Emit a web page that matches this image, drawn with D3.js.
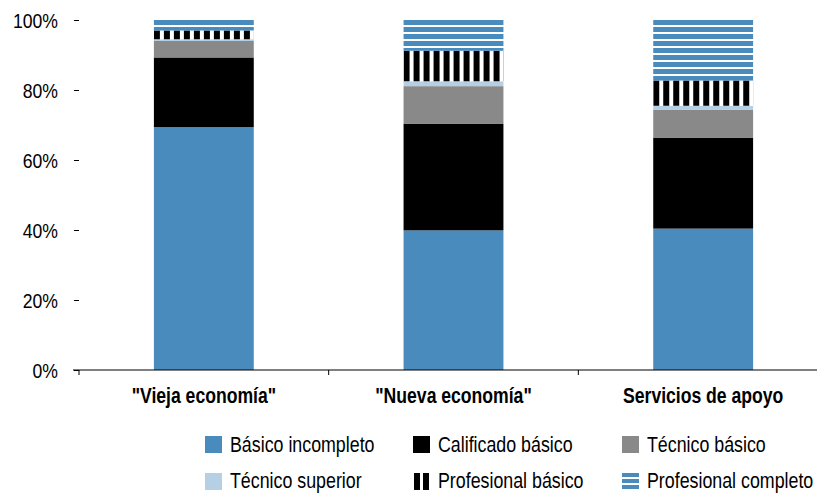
<!DOCTYPE html>
<html><head><meta charset="utf-8">
<script src="https://cdn.jsdelivr.net/npm/d3@7"></script>
<style>
body{margin:0;background:#fff;}
text{font-family:"Liberation Sans",Arial,sans-serif;fill:#000;}
</style></head>
<body><svg id="c" width="817" height="493"></svg>
<script>
const categories = ['"Vieja economía"', '"Nueva economía"', 'Servicios de apoyo'];
const seriesNames = ["Básico incompleto","Calificado básico","Técnico básico","Técnico superior","Profesional básico","Profesional completo"];
const basicoIncompleto   = [69.4, 39.9, 40.4];
const calificadoBasico   = [19.9, 30.5, 26.0];
const tecnicoBasico      = [4.7, 10.7, 8.0];
const tecnicoSuperior    = [0.5, 1.4, 1.1];
const profesionalBasico  = [2.5, 8.7, 7.2];
const profesionalCompleto= [3.0, 8.8, 17.3];
const yTicks = [0, 20, 40, 60, 80, 100];

const seriesValues = [basicoIncompleto, calificadoBasico, tecnicoBasico, tecnicoSuperior, profesionalBasico, profesionalCompleto];
const colors = ["#4a8bbd", "#000000", "#898989", "#b5d0e4", null, null];

const svg = d3.select("#c");
const x = d3.scaleBand().domain(categories).range([79, 828]).paddingInner(0.6).paddingOuter(0.3);
const y = d3.scaleLinear().domain([0, 100]).range([370, 20]);

function ntext(parent, tx, ty, str, size, anchor, weight, sx){
  return parent.append("text")
    .attr("transform", `translate(${tx},${ty}) scale(${sx},1)`)
    .attr("text-anchor", anchor)
    .style("font-size", size+"px")
    .style("font-weight", weight)
    .text(str);
}

const defs = svg.append("defs");
const ph = defs.append("pattern").attr("id","hstripe").attr("patternUnits","userSpaceOnUse")
  .attr("x",0).attr("y",y(100)).attr("width",10).attr("height",7);
ph.append("rect").attr("width",10).attr("height",7).attr("fill","#fff");
ph.append("rect").attr("width",10).attr("height",5).attr("fill","#4a8bbd");

categories.forEach((c,i)=>{
  const pv = defs.append("pattern").attr("id","vstripe"+i).attr("patternUnits","userSpaceOnUse")
    .attr("x",x(c)).attr("y",0).attr("width",10).attr("height",10);
  pv.append("rect").attr("width",10).attr("height",10).attr("fill","#fff");
  pv.append("rect").attr("width",6).attr("height",10).attr("fill","#000");
});

const rows = categories.map((c,i)=>{
  const r = {cat:c, idx:i};
  seriesNames.forEach((s,j)=> r[s] = seriesValues[j][i]);
  return r;
});
const stack = d3.stack().keys(seriesNames)(rows);

function fillFor(j, i){
  if (j===4) return "url(#vstripe"+i+")";
  if (j===5) return "url(#hstripe)";
  return colors[j];
}

stack.forEach((layer,j)=>{
  svg.append("g").selectAll("rect").data(layer).join("rect")
    .attr("x", d=>x(d.data.cat))
    .attr("width", x.bandwidth())
    .attr("y", d=>y(d[1]))
    .attr("height", d=>y(d[0])-y(d[1]))
    .attr("fill", d=>fillFor(j, d.data.idx));
});

const yAxis = svg.append("g").attr("transform","translate(79,0)")
  .call(d3.axisLeft(y).tickValues(yTicks).tickFormat("").tickSize(5));
yAxis.select(".domain").remove();
yAxis.selectAll("line").attr("stroke","#000");
yTicks.forEach(t=> ntext(svg, 58, y(t)+7.5, t+"%", 21, "end", "normal", 0.84));

const xAxis = svg.append("g").attr("transform","translate(0,370)");
xAxis.append("line").attr("x1",73).attr("x2",817).attr("y1",0).attr("y2",0).attr("stroke","#000").attr("stroke-width",1.2);
xAxis.selectAll("line.t").data(categories).join("line").attr("class","t")
  .attr("x1",(d,i)=> i===0 ? 79 : x(d) - (x.step()-x.bandwidth())/2)
  .attr("x2",(d,i)=> i===0 ? 79 : x(d) - (x.step()-x.bandwidth())/2)
  .attr("y1",0).attr("y2",5).attr("stroke","#000");
categories.forEach(c=> ntext(svg, x(c)+x.bandwidth()/2, 403, c, 22, "middle", "bold", 0.8));

const legendX = [205, 413, 622];
const legendY = [436, 473];
seriesNames.forEach((s,j)=>{
  const col = j%3, row = Math.floor(j/3);
  const g = svg.append("g").attr("transform",`translate(${legendX[col]},${legendY[row]})`);
  if (j===4){
    g.append("rect").attr("x",1).attr("y",0).attr("width",6).attr("height",17).attr("fill","#000");
    g.append("rect").attr("x",10).attr("y",0).attr("width",6).attr("height",17).attr("fill","#000");
  } else if (j===5){
    [0,6,12].forEach(yy=> g.append("rect").attr("x",0).attr("y",yy).attr("width",17).attr("height",4).attr("fill","#4a8bbd"));
  } else {
    g.append("rect").attr("width",17).attr("height",17).attr("fill",colors[j]);
  }
  ntext(g, 25, row===0 ? 16 : 15, s, 22, "start", "normal", 0.81);
});
</script></body></html>
